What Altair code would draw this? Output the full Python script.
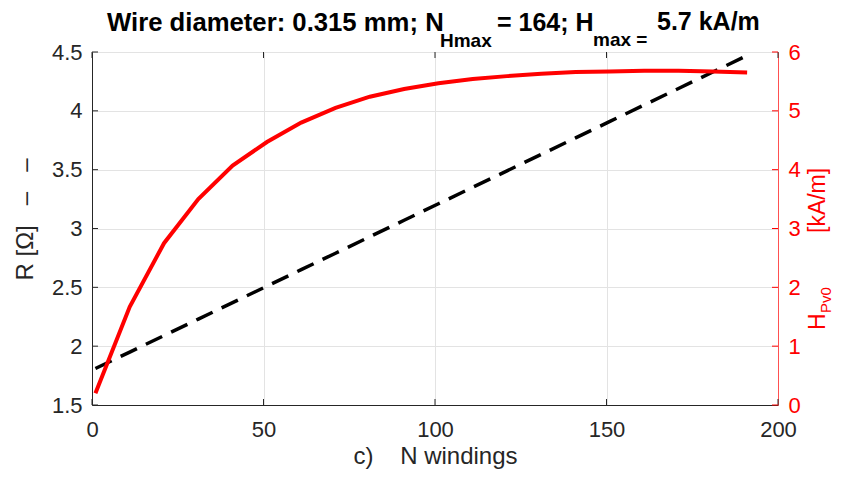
import altair as alt
import pandas as pd

# ---- data ----
N_WINDINGS = [1, 11, 21, 31, 41, 51, 61, 71, 81, 91, 101, 111, 121, 131, 141, 151, 161, 171, 181, 191]
R_OHM = [1.81, 1.95, 2.09, 2.23, 2.37, 2.51, 2.65, 2.79, 2.93, 3.07,
         3.21, 3.35, 3.49, 3.63, 3.77, 3.91, 4.05, 4.19, 4.33, 4.47]
H_KAM = [0.20, 1.67, 2.75, 3.50, 4.07, 4.47, 4.80, 5.05, 5.24, 5.37,
         5.47, 5.54, 5.59, 5.63, 5.66, 5.67, 5.68, 5.68, 5.67, 5.65]
X_TICKS = [0, 50, 100, 150, 200]
R_TICKS = [1.5, 2, 2.5, 3, 3.5, 4, 4.5]
H_TICKS = [0, 1, 2, 3, 4, 5, 6]

W, H = 686, 353
FONT = "Liberation Sans"
DARK = "#262626"
RED = "#ff0000"
NB = "\u00a0"

df = pd.DataFrame({"N": N_WINDINGS, "R": R_OHM, "H": H_KAM})

x_scale = alt.Scale(domain=[0, 200], nice=False, zero=False)
r_scale = alt.Scale(domain=[1.5, 4.5], nice=False, zero=False)
h_scale = alt.Scale(domain=[0, 6], nice=False, zero=False)

x_axis = alt.Axis(
    values=X_TICKS, format="d", title="c)" + NB * 4 + "N windings",
    grid=True, gridColor="#e3e3e3", ticks=False, tickSize=0, labelPadding=14,
    labelFont=FONT, labelFontSize=22, labelColor=DARK, labelFlush=False,
    titleFont=FONT, titleFontSize=24, titleFontWeight="normal", titleColor=DARK,
    titleBaseline="alphabetic", titleAlign="center", titleX=W / 2, titleY=58,
    domainColor=DARK,
)
r_axis = alt.Axis(
    orient="left", values=R_TICKS, format="~g",
    title="R [Ω]" + NB * 3 + "–" + NB * 3 + "–",
    grid=True, gridColor="#e3e3e3", ticks=False, tickSize=0, labelPadding=10,
    labelFont=FONT, labelFontSize=22, labelColor=DARK, labelFlush=False,
    titleFont=FONT, titleFontSize=24, titleFontWeight="normal", titleColor=DARK,
    titleAngle=270, titleAlign="left", titleBaseline="alphabetic",
    titleX=-60, titleY=228, domainColor=DARK,
)
h_axis = alt.Axis(
    orient="right", values=H_TICKS, format="~g", title=None,
    grid=False, ticks=False, tickSize=0, labelPadding=10,
    labelFont=FONT, labelFontSize=22, labelColor=RED, labelFlush=False,
    domainColor="#ff5050",
)

X_ENC = alt.X("N:Q", scale=x_scale, axis=x_axis)

r_line = alt.Chart(df).mark_line(color="black", strokeWidth=3.5, strokeDash=[18, 10]).encode(
    x=X_ENC,
    y=alt.Y("R:Q", scale=r_scale, axis=r_axis),
)
h_line = alt.Chart(df).mark_line(color=RED, strokeWidth=4).encode(
    x=X_ENC,
    y=alt.Y("H:Q", scale=h_scale, axis=h_axis),
)

# inward tick marks (MATLAB style)
xt = pd.DataFrame({"N": X_TICKS})
rt = pd.DataFrame({"v": R_TICKS})
ht = pd.DataFrame({"v": H_TICKS})
tick_bottom = alt.Chart(xt).mark_rule(color=DARK, strokeWidth=1).encode(
    x=X_ENC, y=alt.value(H), y2=alt.value(H - 6))
tick_top = alt.Chart(xt).mark_rule(color=DARK, strokeWidth=1).encode(
    x=X_ENC, y=alt.value(0), y2=alt.value(6))
tick_left = alt.Chart(rt).mark_rule(color=DARK, strokeWidth=1).encode(
    y=alt.Y("v:Q", scale=r_scale, axis=None), x=alt.value(0), x2=alt.value(6))
tick_right = alt.Chart(ht).mark_rule(color=RED, strokeWidth=1).encode(
    y=alt.Y("v:Q", scale=h_scale, axis=None), x=alt.value(W), x2=alt.value(W - 6))


def label(text, x, y, size, weight="bold", color="black", angle=0):
    return alt.Chart(alt.Data(values=[{}])).mark_text(
        text=text, align="left", baseline="alphabetic", font=FONT,
        fontSize=size, fontWeight=weight, color=color, angle=angle,
    ).encode(x=alt.value(x), y=alt.value(y))


title_parts = [
    label("Wire diameter: 0.315 mm; N", 15, -21, 25.7),
    label("Hmax", 348, -5, 19),
    label("= 164; H", 405, -21, 25),
    label("max =", 501, -6, 19),
    label("5.7 kA/m", 565, -22, 25),
]
right_title = [
    label("H", 733, 278, 23, weight="normal", color=RED, angle=270),
    label("Pv0", 739, 261, 15, weight="normal", color=RED, angle=270),
    label("[kA/m]", 733, 181, 23, weight="normal", color=RED, angle=270),
]

chart = alt.layer(
    r_line, h_line, tick_bottom, tick_top, tick_left, tick_right,
    *title_parts, *right_title,
).resolve_scale(y="independent").properties(
    width=W, height=H,
    padding={"left": 84, "top": 44, "right": 56, "bottom": 65},
    autosize=alt.AutoSizeParams(type="none"),
    background="white",
).configure_view(stroke=DARK, strokeWidth=1)

chart.save("out.html", embed_options={"renderer": "svg", "actions": False})
